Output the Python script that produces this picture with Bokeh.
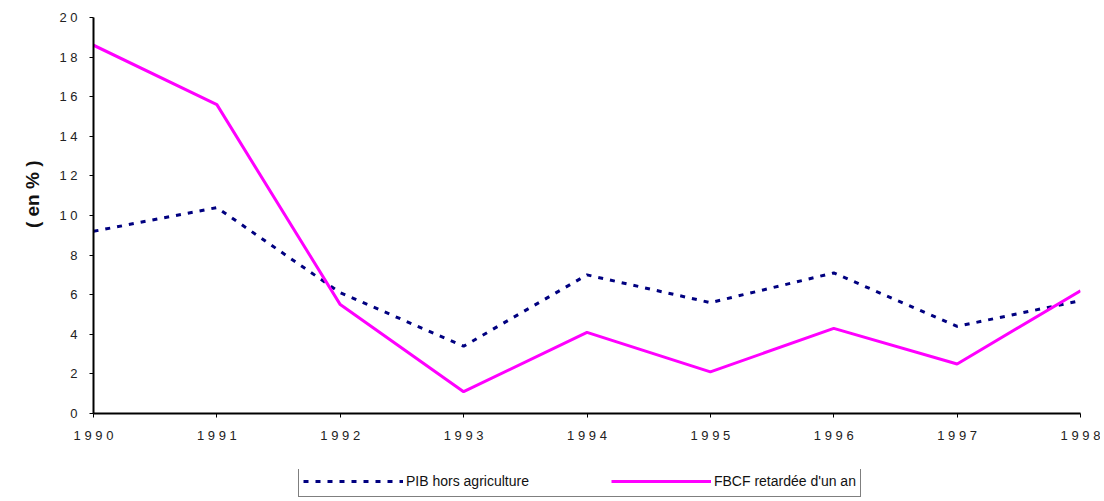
from bokeh.plotting import figure
from bokeh.models import Range1d, FixedTicker, Legend, LegendItem, Title
from bokeh.layouts import column
from bokeh.embed import file_html
from bokeh.resources import INLINE

years = [1990, 1991, 1992, 1993, 1994, 1995, 1996, 1997, 1998]
pib = [9.2, 10.4, 6.1, 3.4, 7.0, 5.6, 7.1, 4.4, 5.7]
fbcf = [18.6, 15.6, 5.5, 1.1, 4.1, 2.1, 4.3, 2.5, 6.2]
x_labels = ["1 9 9 0", "1 9 9 1", "1 9 9 2", "1 9 9 3", "1 9 9 4", "1 9 9 5", "1 9 9 6", "1 9 9 7", "1 9 9 8"]
y_ticks = [0, 2, 4, 6, 8, 10, 12, 14, 16, 18, 20]
y_labels = ["0", "2", "4", "6", "8", "1 0", "1 2", "1 4", "1 6", "1 8", "2 0"]
series_names = ["PIB hors agriculture", "FBCF retardée d'un an"]
y_title = "( en % )"

FONT = "Liberation Sans"
NAVY = "#000080"
MAGENTA = "#FF00FF"
DASH = "5 7"

p = figure(width=1100, height=469, output_backend="svg", toolbar_location=None,
           x_range=Range1d(1990, 1998), y_range=Range1d(0, 20),
           min_border_left=93, min_border_right=20, min_border_top=17, min_border_bottom=56)
p.outline_line_color = None
p.xgrid.visible = False
p.ygrid.visible = False

p.line(years, pib, line_color=NAVY, line_width=3, line_dash=DASH)
p.line(years, fbcf, line_color=MAGENTA, line_width=3)

for ax in (p.xaxis[0], p.yaxis[0]):
    ax.axis_line_color = "black"
    ax.axis_line_width = 2
    ax.major_tick_line_color = "black"
    ax.major_tick_line_width = 1
    ax.major_tick_in = 0
    ax.major_tick_out = 4
    ax.minor_tick_line_color = None
    ax.major_label_text_font = FONT
    ax.major_label_text_font_size = "13px"
    ax.major_label_text_color = "#222222"

p.xaxis.ticker = FixedTicker(ticks=years)
p.xaxis.major_label_overrides = {y: l for y, l in zip(years, x_labels)}
p.xaxis.major_label_standoff = 10
p.yaxis.ticker = FixedTicker(ticks=y_ticks)
p.yaxis.major_label_overrides = {t: l for t, l in zip(y_ticks, y_labels)}
p.yaxis.major_label_standoff = 12

ttl = Title(text=y_title, align="right", offset=143, text_font=FONT,
            text_font_style="bold", text_font_size="19px", text_color="#111111",
            standoff=27)
p.add_layout(ttl, "left")

# legend strip below the chart
p2 = figure(width=1100, height=32, output_backend="svg", toolbar_location=None,
            x_axis_location=None, y_axis_location=None,
            x_range=Range1d(0, 1), y_range=Range1d(0, 1),
            min_border_left=93, min_border_right=20, min_border_top=0, min_border_bottom=0)
p2.outline_line_color = None
p2.xgrid.visible = False
p2.ygrid.visible = False
l1 = p2.line(years, pib, line_color=NAVY, line_width=3, line_dash=DASH)
l2 = p2.line(years, fbcf, line_color=MAGENTA, line_width=3)

legend = Legend(items=[LegendItem(label=series_names[0], renderers=[l1]),
                       LegendItem(label=series_names[1], renderers=[l2])],
                location=(205, 4), orientation="horizontal",
                border_line_color="black", border_line_width=1.5,
                background_fill_alpha=1.0,
                label_text_font=FONT, label_text_font_size="14px",
                label_text_color="#111111",
                glyph_width=100, glyph_height=22, label_height=22, label_standoff=3,
                spacing=82, padding=4, margin=0)
p2.add_layout(legend, "center")

open("out.html", "w").write(file_html(column(p, p2, spacing=0), INLINE))
